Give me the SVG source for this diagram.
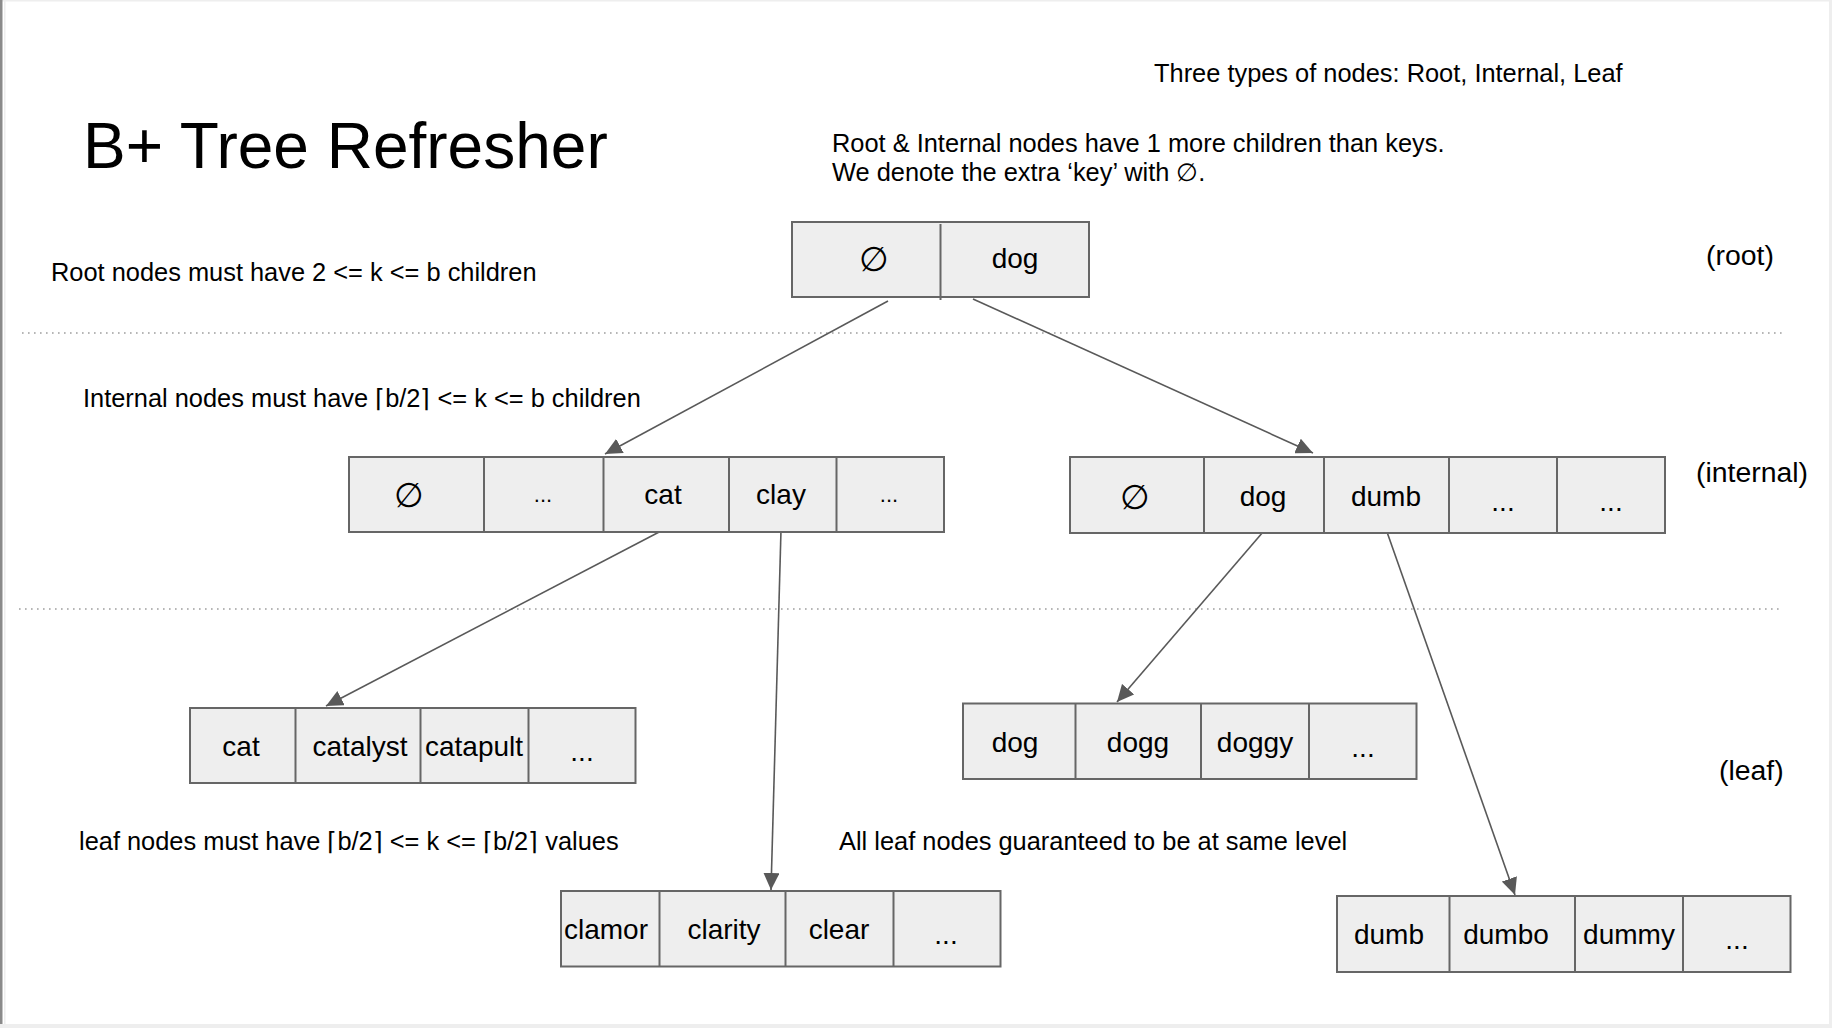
<svg xmlns="http://www.w3.org/2000/svg" width="1832" height="1028" viewBox="0 0 1832 1028">
<style>
.t{font-family:"Liberation Sans",Arial,sans-serif;fill:#000}
.note{font-size:25.4px}
.lvl{font-size:28.4px}
.cell{font-size:28px;text-anchor:middle}
.sm{font-size:22px;text-anchor:middle}
.nul{font-size:34px;text-anchor:middle}
.box{fill:#eeeeee;stroke:#666666;stroke-width:2}
.div{stroke:#666666;stroke-width:2}
.dot{stroke:#9e9e9e;stroke-width:1.6;stroke-dasharray:1.6 4.4}
.edge{stroke:#595959;stroke-width:1.6;fill:none;marker-end:url(#ah)}
</style>
<defs>
<marker id="ah" markerUnits="userSpaceOnUse" markerWidth="18" markerHeight="16" refX="17" refY="8" orient="auto" viewBox="0 0 18 16">
<path d="M0,0 L17,8 L0,16 z" fill="#595959"/>
</marker>
</defs>
<rect x="0" y="0" width="1832" height="1028" fill="#ffffff"/>
<rect x="0" y="0" width="1832" height="1.5" fill="#eeeeee"/>
<rect x="0" y="0" width="2.5" height="1028" fill="#8a8a8a"/>
<rect x="4" y="0" width="1.5" height="1028" fill="#eeeeee"/>
<rect x="0" y="1024" width="1832" height="4" fill="#eeeeee"/>
<rect x="1829" y="0" width="3" height="1028" fill="#eeeeee"/>

<g id="texts">
<text class="t" x="83" y="168" font-size="64">B+ Tree Refresher</text>
<text class="t note" x="1154" y="82">Three types of nodes: Root, Internal, Leaf</text>
<text class="t note" x="832" y="152">Root &amp; Internal nodes have 1 more children than keys.</text>
<text class="t note" x="832" y="181">We denote the extra ‘key’ with ∅.</text>
<text class="t note" x="51" y="281">Root nodes must have 2 &lt;= k &lt;= b children</text>
<text class="t lvl" x="1706" y="265">(root)</text>
<text class="t note" x="83" y="407">Internal nodes must have ⌈b/2⌉ &lt;= k &lt;= b children</text>
<text class="t lvl" x="1696" y="482">(internal)</text>
<text class="t note" x="79" y="850">leaf nodes must have ⌈b/2⌉ &lt;= k &lt;= ⌈b/2⌉ values</text>
<text class="t note" x="839" y="850">All leaf nodes guaranteed to be at same level</text>
<text class="t lvl" x="1719" y="780">(leaf)</text>
</g>

<g id="levels">
<line class="dot" x1="22" y1="333" x2="1786" y2="333"/>
<line class="dot" x1="19" y1="609" x2="1783" y2="609"/>
</g>

<g id="connectors">
<line class="edge" x1="888" y1="301" x2="605" y2="454"/>
<line class="edge" x1="973" y1="299" x2="1313" y2="453"/>
<line class="edge" x1="663" y1="530" x2="326" y2="706"/>
<line class="edge" x1="781" y1="530" x2="771" y2="890"/>
<line class="edge" x1="1263" y1="532" x2="1117" y2="702"/>
<line class="edge" x1="1387" y1="532" x2="1515" y2="895"/>
</g>

<g id="node-root">
<rect class="box" x="792" y="222" width="297" height="75"/>
<line class="div" x1="940.5" y1="224" x2="940.5" y2="300"/>
<text class="t nul" x="874" y="271">∅</text>
<text class="t cell" x="1015" y="268">dog</text>
</g>

<g id="node-internal-left">
<rect class="box" x="349" y="457" width="595" height="75"/>
<line class="div" x1="484" y1="457" x2="484" y2="532"/>
<line class="div" x1="603.5" y1="457" x2="603.5" y2="532"/>
<line class="div" x1="729" y1="457" x2="729" y2="532"/>
<line class="div" x1="836.5" y1="457" x2="836.5" y2="532"/>
<text class="t nul" x="409" y="507">∅</text>
<text class="t sm" x="543" y="502">...</text>
<text class="t cell" x="663" y="504">cat</text>
<text class="t cell" x="781" y="504">clay</text>
<text class="t sm" x="889" y="502">...</text>
</g>

<g id="node-internal-right">
<rect class="box" x="1070" y="457" width="595" height="76"/>
<line class="div" x1="1204" y1="457" x2="1204" y2="533"/>
<line class="div" x1="1324" y1="457" x2="1324" y2="533"/>
<line class="div" x1="1449" y1="457" x2="1449" y2="533"/>
<line class="div" x1="1557" y1="457" x2="1557" y2="533"/>
<text class="t nul" x="1135" y="509">∅</text>
<text class="t cell" x="1263" y="506">dog</text>
<text class="t cell" x="1386" y="506">dumb</text>
<text class="t cell" x="1503" y="511">...</text>
<text class="t cell" x="1611" y="511">...</text>
</g>

<g id="node-leaf-cat">
<rect class="box" x="190" y="708" width="445.5" height="75"/>
<line class="div" x1="295.5" y1="708" x2="295.5" y2="783"/>
<line class="div" x1="420.5" y1="708" x2="420.5" y2="783"/>
<line class="div" x1="528.5" y1="708" x2="528.5" y2="783"/>
<text class="t cell" x="241" y="756">cat</text>
<text class="t cell" x="360" y="756">catalyst</text>
<text class="t cell" x="474" y="756">catapult</text>
<text class="t cell" x="582" y="761">...</text>
</g>

<g id="node-leaf-clamor">
<rect class="box" x="561" y="891" width="439.5" height="75.5"/>
<line class="div" x1="659.5" y1="891" x2="659.5" y2="966.5"/>
<line class="div" x1="785.5" y1="891" x2="785.5" y2="966.5"/>
<line class="div" x1="893.5" y1="891" x2="893.5" y2="966.5"/>
<text class="t cell" x="606" y="939">clamor</text>
<text class="t cell" x="724" y="939">clarity</text>
<text class="t cell" x="839" y="939">clear</text>
<text class="t cell" x="946" y="944">...</text>
</g>

<g id="node-leaf-dog">
<rect class="box" x="963" y="703.5" width="453.5" height="75.5"/>
<line class="div" x1="1075.5" y1="703.5" x2="1075.5" y2="779"/>
<line class="div" x1="1201" y1="703.5" x2="1201" y2="779"/>
<line class="div" x1="1309" y1="703.5" x2="1309" y2="779"/>
<text class="t cell" x="1015" y="752">dog</text>
<text class="t cell" x="1138" y="752">dogg</text>
<text class="t cell" x="1255" y="752">doggy</text>
<text class="t cell" x="1363" y="757">...</text>
</g>

<g id="node-leaf-dumb">
<rect class="box" x="1337" y="896" width="453.5" height="76"/>
<line class="div" x1="1449.5" y1="896" x2="1449.5" y2="972"/>
<line class="div" x1="1575" y1="896" x2="1575" y2="972"/>
<line class="div" x1="1683" y1="896" x2="1683" y2="972"/>
<text class="t cell" x="1389" y="944">dumb</text>
<text class="t cell" x="1506" y="944">dumbo</text>
<text class="t cell" x="1629" y="944">dummy</text>
<text class="t cell" x="1737" y="949">...</text>
</g>
</svg>
